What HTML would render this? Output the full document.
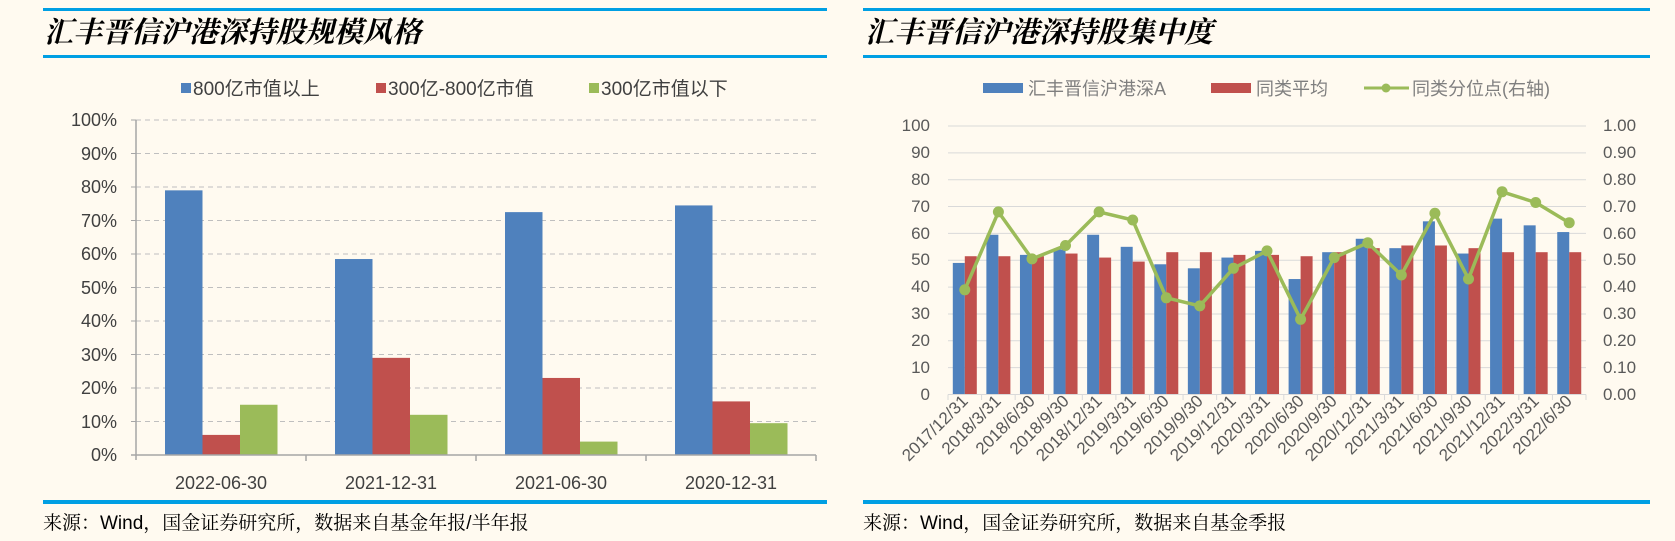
<!DOCTYPE html>
<html><head><meta charset="utf-8"><style>
html,body{margin:0;padding:0;background:#fffaf0;}
svg{display:block;}
text{font-family:"Liberation Sans","Noto Sans CJK SC",sans-serif;}
.t{font-family:"Liberation Serif","Noto Serif CJK SC",serif;font-style:italic;font-weight:bold;font-size:29px;fill:#000;}
.f{font-family:"Liberation Sans","Noto Serif CJK SC",serif;font-size:19px;fill:#000;}
.ax{font-size:18px;fill:#404040;}
.ax2{font-size:17px;fill:#595959;}
.lg{font-size:19px;fill:#404040;}
.lg2{font-size:18px;fill:#7f7f7f;}
</style></head><body>
<svg id="s" width="1675" height="541" viewBox="0 0 1675 541" xmlns="http://www.w3.org/2000/svg">
<rect width="1675" height="541" fill="#fffaf0"/>
<rect x="43" y="8" width="784" height="3" fill="#009fe3"/>
<rect x="43" y="55" width="784" height="3" fill="#009fe3"/>
<rect x="43" y="500" width="784" height="4" fill="#009fe3"/>
<text class="t" x="44" y="42">汇丰晋信沪港深持股规模风格</text>
<text class="f" x="43" y="529">来源：Wind，国金证券研究所，数据来自基金年报/半年报</text>
<rect x="863" y="8" width="787" height="3" fill="#009fe3"/>
<rect x="863" y="55" width="787" height="3" fill="#009fe3"/>
<rect x="863" y="500" width="787" height="4" fill="#009fe3"/>
<text class="t" x="865" y="42">汇丰晋信沪港深持股集中度</text>
<text class="f" x="863" y="529">来源：Wind，国金证券研究所，数据来自基金季报</text>

<rect x="181" y="83" width="10" height="10" fill="#4f81bd"/><text class="lg" x="193" y="95">800亿市值以上</text>
<rect x="376" y="83" width="10" height="10" fill="#c0504d"/><text class="lg" x="388" y="95">300亿-800亿市值</text>
<rect x="589" y="83" width="10" height="10" fill="#9bbb59"/><text class="lg" x="601" y="95">300亿市值以下</text>

<g id="lgrid" stroke="#bfbfbf" stroke-dasharray="5,4" stroke-width="1"></g>
<g class="ax" text-anchor="end">
<text x="117" y="461">0%</text><text x="117" y="428">10%</text><text x="117" y="394">20%</text><text x="117" y="361">30%</text><text x="117" y="327">40%</text><text x="117" y="294">50%</text><text x="117" y="260">60%</text><text x="117" y="227">70%</text><text x="117" y="193">80%</text><text x="117" y="160">90%</text><text x="117" y="126">100%</text>
</g>
<g id="lbars"></g>
<g stroke="#a6a6a6" stroke-width="1.5">
<line x1="136" y1="120" x2="136" y2="460"/><line x1="131" y1="455" x2="816" y2="455"/>
<line x1="306" y1="455" x2="306" y2="461"/><line x1="476" y1="455" x2="476" y2="461"/><line x1="646" y1="455" x2="646" y2="461"/><line x1="816" y1="455" x2="816" y2="461"/>
</g>
<g class="ax" text-anchor="middle">
<text x="221" y="489">2022-06-30</text><text x="391" y="489">2021-12-31</text><text x="561" y="489">2021-06-30</text><text x="731" y="489">2020-12-31</text>
</g>

<rect x="983" y="83" width="40" height="10" fill="#4f81bd"/><text class="lg2" x="1028" y="95">汇丰晋信沪港深A</text>
<rect x="1211" y="83" width="40" height="10" fill="#c0504d"/><text class="lg2" x="1256" y="95">同类平均</text>
<line x1="1364" y1="88" x2="1409" y2="88" stroke="#9bbb59" stroke-width="3"/><circle cx="1386" cy="88" r="4.5" fill="#9bbb59"/><text class="lg2" x="1412" y="95">同类分位点(右轴)</text>

<g id="rgrid" stroke="#d9d9d9" stroke-width="1"></g>
<g class="ax2" text-anchor="end">
<text x="930" y="400">0</text><text x="930" y="373">10</text><text x="930" y="346">20</text><text x="930" y="319">30</text><text x="930" y="292">40</text><text x="930" y="265">50</text><text x="930" y="239">60</text><text x="930" y="212">70</text><text x="930" y="185">80</text><text x="930" y="158">90</text><text x="930" y="131">100</text>
</g>
<g class="ax2">
<text x="1603" y="400">0.00</text><text x="1603" y="373">0.10</text><text x="1603" y="346">0.20</text><text x="1603" y="319">0.30</text><text x="1603" y="292">0.40</text><text x="1603" y="265">0.50</text><text x="1603" y="239">0.60</text><text x="1603" y="212">0.70</text><text x="1603" y="185">0.80</text><text x="1603" y="158">0.90</text><text x="1603" y="131">1.00</text>
</g>
<g id="rbars"></g>
<g id="rticks" stroke="#d9d9d9" stroke-width="1"></g>
<g id="rline"></g>
<g class="ax2" text-anchor="end">
<text transform="translate(969,402) rotate(-45)">2017/12/31</text>
<text transform="translate(1002,402) rotate(-45)">2018/3/31</text>
<text transform="translate(1036,402) rotate(-45)">2018/6/30</text>
<text transform="translate(1070,402) rotate(-45)">2018/9/30</text>
<text transform="translate(1103,402) rotate(-45)">2018/12/31</text>
<text transform="translate(1137,402) rotate(-45)">2019/3/31</text>
<text transform="translate(1170,402) rotate(-45)">2019/6/30</text>
<text transform="translate(1204,402) rotate(-45)">2019/9/30</text>
<text transform="translate(1237,402) rotate(-45)">2019/12/31</text>
<text transform="translate(1271,402) rotate(-45)">2020/3/31</text>
<text transform="translate(1305,402) rotate(-45)">2020/6/30</text>
<text transform="translate(1338,402) rotate(-45)">2020/9/30</text>
<text transform="translate(1372,402) rotate(-45)">2020/12/31</text>
<text transform="translate(1405,402) rotate(-45)">2021/3/31</text>
<text transform="translate(1439,402) rotate(-45)">2021/6/30</text>
<text transform="translate(1473,402) rotate(-45)">2021/9/30</text>
<text transform="translate(1506,402) rotate(-45)">2021/12/31</text>
<text transform="translate(1540,402) rotate(-45)">2022/3/31</text>
<text transform="translate(1573,402) rotate(-45)">2022/6/30</text>
</g>
</svg>
<script>
var NS="http://www.w3.org/2000/svg";
function el(p,t,a){var e=document.createElementNS(NS,t);for(var k in a)e.setAttribute(k,a[k]);document.getElementById(p).appendChild(e);return e;}
for(var i=1;i<=10;i++){var y=455-i*33.5;el("lgrid","line",{x1:136,y1:y,x2:816,y2:y});el("lgrid","line",{x1:131,y1:y,x2:136,y2:y,"stroke-dasharray":"none","stroke":"#a6a6a6"});}
var L=[[79,6,15],[58.5,29,12],[72.5,23,4],[74.5,16,9.5]],C=["#4f81bd","#c0504d","#9bbb59"];
L.forEach(function(g,i){g.forEach(function(v,j){var h=v*3.35;el("lbars","rect",{x:165+i*170+j*37.5,y:455-h,width:37.5,height:h,fill:C[j]});});});
var k=2.685;
for(var i=1;i<=10;i++){var y=394.5-i*26.85;el("rgrid","line",{x1:948,y1:y,x2:1586,y2:y});}
el("rticks","line",{x1:948,y1:394.5,x2:1586,y2:394.5});
var B=[49,59.5,52,54,59.5,55,48.5,47,51,53.5,43,53,58,54.5,64.5,52.5,65.5,63,60.5];
var R=[51.5,51.5,51.5,52.5,51,49.5,53,53,52,52,51.5,53,54.5,55.5,55.5,54.5,53,53,53];
var G=[39,68,50.5,55.5,68,65,36,33,47,53.5,28,51,56.5,44.5,67.5,43,75.5,71.5,64];
var w=33.58,pts=[];
for(var i=0;i<19;i++){var x0=948+i*w;
el("rbars","rect",{x:x0+4.8,y:394.5-B[i]*k,width:12,height:B[i]*k,fill:"#4f81bd"});
el("rbars","rect",{x:x0+16.8,y:394.5-R[i]*k,width:12,height:R[i]*k,fill:"#c0504d"});
el("rticks","line",{x1:x0,y1:394.5,x2:x0,y2:400});
pts.push((x0+w/2).toFixed(1)+","+(394.5-G[i]*k).toFixed(1));}
el("rticks","line",{x1:1586,y1:394.5,x2:1586,y2:400});
el("rline","polyline",{points:pts.join(" "),fill:"none",stroke:"#9bbb59","stroke-width":3.5,"stroke-linejoin":"round"});
pts.forEach(function(p){var a=p.split(",");el("rline","circle",{cx:a[0],cy:a[1],r:5.5,fill:"#9bbb59"});});
</script>
</body></html>
